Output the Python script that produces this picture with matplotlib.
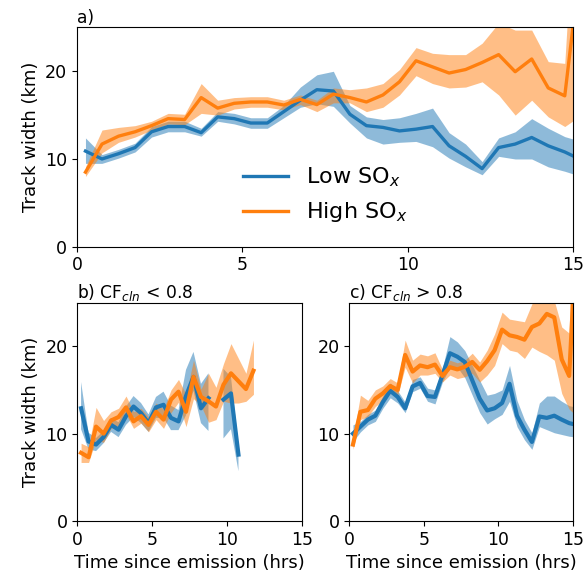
import numpy as np
import matplotlib
matplotlib.use("Agg")
from matplotlib import pyplot as plt

plt.rcParams["font.size"] = 13
plt.rcParams["axes.labelsize"] = 13
plt.rcParams["xtick.labelsize"] = 12.4
plt.rcParams["ytick.labelsize"] = 12.6

nan = np.nan

# time bins (hrs), centre of each half hour bin
t_full = np.arange(0.25, 15.3, 0.5)

# a) all tracks
a_low = [10.9, 10.0, 10.6, 11.3, 13.1, 13.7, 13.7, 13.0, 14.8, 14.6, 14.1, 14.1, 15.4, 16.7, 17.9,
         17.75, 15.1, 13.8, 13.6, 13.2, 13.4, 13.7, 11.5, 10.3, 8.9, 11.3, 11.7, 12.45, 11.5, 10.8, 9.9]
a_low_lo = [9.5, 9.5, 10.1, 10.8, 12.5, 13.1, 13.1, 12.6, 14.3, 14.0, 13.5, 13.5, 14.7, 15.9, 16.3,
            16.0, 14.1, 12.4, 11.7, 11.9, 12.0, 11.4, 10.1, 9.1, 8.2, 10.3, 10.0, 10.0, 9.1, 8.6, 8.0]
a_low_hi = [12.4, 10.5, 11.1, 11.8, 13.7, 14.3, 14.3, 13.5, 15.4, 15.2, 14.7, 14.7, 16.1, 18.2, 19.6,
            20.0, 16.1, 14.8, 14.5, 14.7, 15.2, 15.8, 13.0, 11.7, 9.7, 12.4, 13.1, 14.6, 13.5, 12.55, 12.0]
a_high = [8.5, 11.7, 12.6, 13.1, 13.8, 14.6, 14.5, 17.0, 15.8, 16.35, 16.5, 16.5, 16.15, 16.8, 16.2,
          17.4, 17.0, 16.5, 17.3, 18.8, 21.2, 20.5, 19.8, 20.2, 21.0, 21.9, 19.95, 21.4, 18.1, 17.2, 33.0]
a_high_lo = [8.0, 10.7, 11.9, 12.5, 13.3, 14.0, 13.9, 15.2, 15.0, 15.7, 15.9, 15.9, 15.6, 16.2, 15.4,
             16.4, 16.4, 15.4, 15.9, 17.3, 19.5, 18.6, 18.1, 18.2, 18.8, 17.3, 15.0, 16.7, 14.8, 13.7, 15.0]
a_high_hi = [9.1, 13.3, 13.6, 13.8, 14.3, 15.2, 15.1, 18.6, 16.7, 17.0, 17.1, 17.1, 16.7, 17.3, 16.7,
             18.1, 17.9, 18.1, 18.6, 20.2, 22.7, 22.05, 21.9, 21.9, 23.2, 25.5, 24.7, 24.7, 21.1, 20.9, 52.0]

# b) CF_cln < 0.8
t_b_low = np.arange(0.25, 10.8, 0.5)
t_b_high = np.arange(0.25, 11.8, 0.5)
b_low = [12.9, 9.1, 8.75, 9.6, 11.0, 10.45, 12.0, 13.1, 12.35, 11.2, 13.0, 13.3, 11.8, 11.4, 14.3,
         16.5, 12.9, 14.05, nan, 13.9, 14.6, 7.6]
b_low_lo = [10.5, 8.2, 8.0, 8.9, 10.2, 9.6, 11.0, 11.9, 11.2, 10.2, 11.8, 11.8, 10.4, 10.4, 12.1,
            14.9, 11.2, 10.3, nan, 9.45, 10.5, 5.7]
b_low_hi = [15.9, 10.1, 9.5, 10.3, 11.8, 11.3, 13.1, 14.3, 13.5, 12.2, 14.2, 14.8, 13.2, 12.7, 17.3,
            19.35, 15.7, 16.9, nan, 17.4, 16.5, 8.75]
b_high = [7.8, 7.3, 10.8, 10.0, 11.5, 11.9, 13.0, 11.4, 12.0, 11.0, 12.5, 11.6, 13.9, 14.8, 12.5,
          16.5, 14.2, 13.7, 13.1, 15.6, 16.9, 16.0, 15.1, 17.2]
b_high_lo = [6.7, 6.7, 9.3, 9.0, 10.6, 10.8, 12.2, 10.6, 11.2, 10.2, 11.6, 10.6, 12.4, 13.6, 10.8,
             14.0, 13.2, 11.3, 11.6, 13.7, 13.5, 13.5, 13.7, 14.5]
b_high_hi = [8.9, 8.5, 13.0, 11.5, 12.5, 12.9, 14.3, 12.5, 12.9, 11.9, 13.5, 12.8, 15.0, 16.2, 14.5,
             18.4, 15.1, 16.9, 15.3, 18.0, 20.3, 18.6, 16.9, 20.7]

# c) CF_cln > 0.8
c_low = [10.0, 10.8, 11.6, 12.05, 13.6, 14.9, 14.2, 12.9, 15.4, 15.8, 14.3, 14.2, 16.7, 19.2, 18.8,
         18.2, 16.1, 14.0, 12.65, 12.9, 13.5, 15.7, 12.05, 10.45, 9.05, 11.96, 11.8, 12.05, 11.6, 11.2, 11.0]
c_low_lo = [9.1, 10.2, 11.0, 11.4, 12.9, 14.1, 13.5, 12.4, 14.8, 15.2, 13.7, 13.4, 15.9, 17.6, 17.6,
            16.4, 14.4, 12.4, 11.1, 11.7, 12.2, 13.7, 10.8, 9.3, 8.2, 10.8, 10.45, 10.1, 9.9, 9.7, 9.6]
c_low_hi = [11.0, 11.4, 12.2, 12.7, 14.3, 15.8, 14.9, 13.6, 16.2, 16.5, 15.2, 15.0, 17.5, 21.1, 20.5,
            19.5, 17.8, 16.1, 14.4, 14.6, 15.0, 17.8, 13.8, 11.6, 10.1, 13.5, 14.3, 14.3, 13.7, 13.2, 13.0]
c_high = [8.75, 12.5, 12.7, 14.0, 14.6, 15.45, 15.0, 19.0, 17.1, 17.8, 17.6, 17.9, 16.6, 17.6, 17.35,
          17.65, 18.2, 17.3, 18.3, 19.55, 21.9, 21.25, 21.06, 20.75, 22.2, 22.6, 23.7, 23.3, 18.5, 16.6, 33.0]
c_high_lo = [8.2, 11.6, 11.96, 13.1, 13.8, 14.6, 14.4, 17.6, 15.8, 16.7, 16.7, 16.9, 15.9, 16.7, 16.3,
             16.5, 16.9, 15.9, 16.7, 17.8, 20.3, 19.55, 19.35, 18.6, 19.9, 19.4, 19.0, 18.4, 14.6, 12.8, 12.0]
c_high_hi = [9.4, 14.4, 13.8, 15.0, 15.45, 16.3, 15.8, 20.7, 18.4, 19.1, 18.9, 19.25, 17.35, 18.4, 18.1,
             18.4, 19.2, 18.2, 19.55, 21.4, 23.9, 23.1, 22.95, 22.8, 24.85, 26.0, 25.2, 25.2, 22.2, 21.5, 55.0]

BLUE = "#1f77b4"
ORANGE = "#ff7f0e"

fig = plt.figure(figsize=(5.84, 5.8), dpi=100)
ax_a = fig.add_axes([0.1322, 0.5747, 0.849, 0.378])
ax_b = fig.add_axes([0.1324, 0.1017, 0.385, 0.3767])
ax_c = fig.add_axes([0.598, 0.1017, 0.383, 0.3767])


def draw(ax, t_lo, lo, lo_l, lo_h, t_hi, hi, hi_l, hi_h, lw):
    ax.fill_between(t_lo, lo_l, lo_h, color=BLUE, alpha=0.5, lw=0)
    ax.fill_between(t_hi, hi_l, hi_h, color=ORANGE, alpha=0.5, lw=0)
    ax.plot(t_lo, lo, color=BLUE, lw=lw, label="Low SO$_x$")
    ax.plot(t_hi, hi, color=ORANGE, lw=lw, label="High SO$_x$")
    ax.set_xlim(0, 15)
    ax.set_ylim(0, 25)
    ax.set_xticks([0, 5, 10, 15])
    ax.set_yticks([0, 10, 20])


draw(ax_a, t_full, a_low, a_low_lo, a_low_hi, t_full, a_high, a_high_lo, a_high_hi, 2.4)
draw(ax_b, t_b_low, b_low, b_low_lo, b_low_hi, t_b_high, b_high, b_high_lo, b_high_hi, 3.0)
draw(ax_c, t_full, c_low, c_low_lo, c_low_hi, t_full, c_high, c_high_lo, c_high_hi, 3.0)

ax_a.set_title("a)", loc="left", pad=3, fontsize=12.3)
ax_b.set_title("b) CF$_{cln}$ < 0.8", loc="left", pad=3, fontsize=12.3)
ax_c.set_title("c) CF$_{cln}$ > 0.8", loc="left", pad=3, fontsize=12.3)

ax_a.set_ylabel("Track width (km)")
ax_b.set_ylabel("Track width (km)")
ax_b.set_xlabel("Time since emission (hrs)")
ax_c.set_xlabel("Time since emission (hrs)")

ax_a.legend(loc="lower center", frameon=False, fontsize=16, bbox_to_anchor=(0.5, 0.01))

fig.savefig("out.png", dpi=100)
